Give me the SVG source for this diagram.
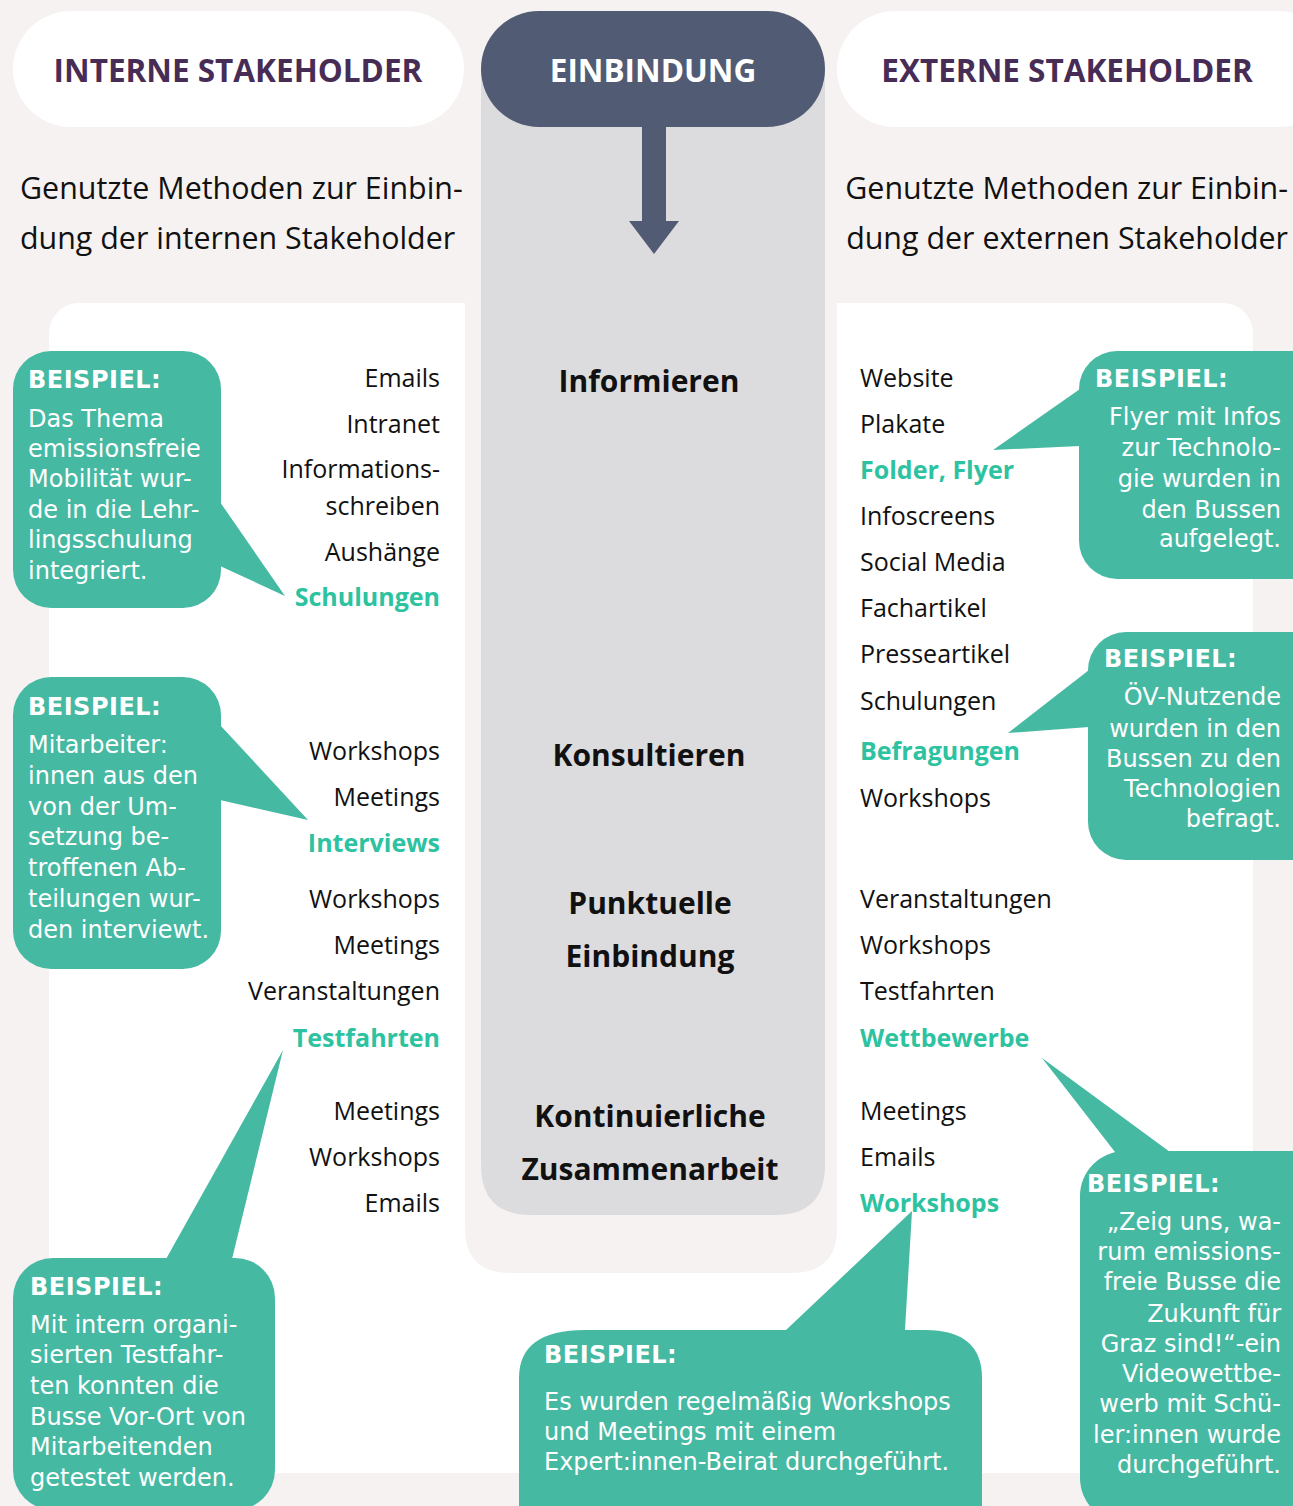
<svg xmlns="http://www.w3.org/2000/svg" width="1293" height="1506" viewBox="0 0 1293 1506">
<style>
.hdr{font-family:"Open Sans","Noto Sans",sans-serif;font-weight:700;font-size:31.5px;text-anchor:middle}
.sub{font-family:"Open Sans","Noto Sans",sans-serif;font-size:30.4px;fill:#111}
.li{font-family:"Open Sans","Noto Sans",sans-serif;font-size:25px;fill:#111}
.lr{text-anchor:end}
.hl{fill:#2dc2a0;font-weight:700}
.cen{font-family:"Open Sans","Noto Sans",sans-serif;font-weight:700;font-size:30px;fill:#111;text-anchor:middle}
.co{fill:#46b9a3}
.ct{font-family:"DejaVu Sans","Verdana",sans-serif;font-size:24px;fill:#fff}
.cb{font-weight:700;letter-spacing:0.5px}
.end{text-anchor:end}
</style>
<rect x="0" y="0" width="1293" height="1506" fill="#f6f2f1"/>
<g id="panels">
<rect x="49" y="303" width="1204" height="1170" rx="30" fill="#fff"/>
<path d="M465,290 L837,290 L837,1228 Q837,1273 792,1273 L510,1273 Q465,1273 465,1228 Z" fill="#f6f2f1"/>
<path d="M481,70 L825,70 L825,1165 Q825,1215 775,1215 L531,1215 Q481,1215 481,1165 Z" fill="#dcdcdf"/>
</g>
<g id="header-intern">
<rect x="13" y="11" width="451" height="116" rx="58" fill="#fff"/>
<text class="hdr" x="238" y="82" fill="#472c55">INTERNE STAKEHOLDER</text>
</g>
<g id="header-einbindung">
<rect x="481" y="11" width="344" height="116" rx="58" fill="#515b73"/>
<text class="hdr" x="653" y="82" fill="#fff">EINBINDUNG</text>
</g>
<g id="header-extern">
<rect x="837" y="11" width="500" height="116" rx="58" fill="#fff"/>
<text class="hdr" x="1067" y="82" fill="#472c55">EXTERNE STAKEHOLDER</text>
</g>
<g id="connectors">
<path d="M642,126 L666,126 L666,221 L679,221 L654,254 L629,221 L642,221 Z" fill="#515b73"/>
</g>
<g id="subtitle-intern">
<text class="sub" x="20" y="199">Genutzte Methoden zur Einbin-</text>
<text class="sub" x="20" y="249">dung der internen Stakeholder</text>
</g>
<g id="subtitle-extern">
<text class="sub end" x="1288" y="199">Genutzte Methoden zur Einbin-</text>
<text class="sub end" x="1288" y="249">dung der externen Stakeholder</text>
</g>
<g id="levels">
<text class="cen" x="649" y="392">Informieren</text>
<text class="cen" x="649" y="766">Konsultieren</text>
<text class="cen" x="650" y="914">Punktuelle</text>
<text class="cen" x="650" y="967">Einbindung</text>
<text class="cen" x="650" y="1127">Kontinuierliche</text>
<text class="cen" x="650" y="1180">Zusammenarbeit</text>
</g>
<g id="list-intern">
<text class="li lr" x="440" y="387">Emails</text>
<text class="li lr" x="440" y="433">Intranet</text>
<text class="li lr" x="440" y="478">Informations-</text>
<text class="li lr" x="440" y="515">schreiben</text>
<text class="li lr" x="440" y="561">Aushänge</text>
<text class="li lr hl" x="440" y="606">Schulungen</text>
<text class="li lr" x="440" y="760">Workshops</text>
<text class="li lr" x="440" y="806">Meetings</text>
<text class="li lr hl" x="440" y="852">Interviews</text>
<text class="li lr" x="440" y="908">Workshops</text>
<text class="li lr" x="440" y="954">Meetings</text>
<text class="li lr" x="440" y="1000">Veranstaltungen</text>
<text class="li lr hl" x="440" y="1047">Testfahrten</text>
<text class="li lr" x="440" y="1120">Meetings</text>
<text class="li lr" x="440" y="1166">Workshops</text>
<text class="li lr" x="440" y="1212">Emails</text>
</g>
<g id="list-extern">
<text class="li" x="860" y="387">Website</text>
<text class="li" x="860" y="433">Plakate</text>
<text class="li hl" x="860" y="479">Folder, Flyer</text>
<text class="li" x="860" y="525">Infoscreens</text>
<text class="li" x="860" y="571">Social Media</text>
<text class="li" x="860" y="617">Fachartikel</text>
<text class="li" x="860" y="663">Presseartikel</text>
<text class="li" x="860" y="710">Schulungen</text>
<text class="li hl" x="860" y="760">Befragungen</text>
<text class="li" x="860" y="807">Workshops</text>
<text class="li" x="860" y="908">Veranstaltungen</text>
<text class="li" x="860" y="954">Workshops</text>
<text class="li" x="860" y="1000">Testfahrten</text>
<text class="li hl" x="860" y="1047">Wettbewerbe</text>
<text class="li" x="860" y="1120">Meetings</text>
<text class="li" x="860" y="1166">Emails</text>
<text class="li hl" x="860" y="1212">Workshops</text>
</g>
<g id="beispiel-schulungen">
<rect class="co" x="13" y="351" width="208" height="257" rx="38"/>
<polygon class="co" points="220,502 285,596 220,566"/>
<text class="ct cb" x="28" y="388">BEISPIEL:</text>
<text class="ct" x="28" y="427">Das Thema</text>
<text class="ct" x="28" y="457">emissionsfreie</text>
<text class="ct" x="28" y="487">Mobilität wur-</text>
<text class="ct" x="28" y="518">de in die Lehr-</text>
<text class="ct" x="28" y="548">lingsschulung</text>
<text class="ct" x="28" y="579">integriert.</text>
</g>
<g id="beispiel-interviews">
<rect class="co" x="13" y="677" width="208" height="292" rx="38"/>
<polygon class="co" points="220,725 308,820 220,800"/>
<text class="ct cb" x="28" y="715">BEISPIEL:</text>
<text class="ct" x="28" y="753">Mitarbeiter:</text>
<text class="ct" x="28" y="784">innen aus den</text>
<text class="ct" x="28" y="815">von der Um-</text>
<text class="ct" x="28" y="845">setzung be-</text>
<text class="ct" x="28" y="876">troffenen Ab-</text>
<text class="ct" x="28" y="907">teilungen wur-</text>
<text class="ct" x="28" y="938">den interviewt.</text>
</g>
<g id="beispiel-testfahrten">
<rect class="co" x="13" y="1258" width="262" height="252" rx="40"/>
<polygon class="co" points="166,1259 283,1050 232,1259"/>
<text class="ct cb" x="30" y="1295">BEISPIEL:</text>
<text class="ct" x="30" y="1333">Mit intern organi-</text>
<text class="ct" x="30" y="1363">sierten Testfahr-</text>
<text class="ct" x="30" y="1394">ten konnten die</text>
<text class="ct" x="30" y="1425">Busse Vor-Ort von</text>
<text class="ct" x="30" y="1455">Mitarbeitenden</text>
<text class="ct" x="30" y="1486">getestet werden.</text>
</g>
<g id="beispiel-workshops">
<path class="co" d="M519,1520 L519,1378 Q519,1330 585,1330 L786,1330 L912,1211 L905,1330 L925,1330 Q982,1330 982,1378 L982,1520 Z"/>
<text class="ct cb" x="544" y="1363">BEISPIEL:</text>
<text class="ct" x="544" y="1410">Es wurden regelmäßig Workshops</text>
<text class="ct" x="544" y="1440">und Meetings mit einem</text>
<text class="ct" x="544" y="1470">Expert:innen-Beirat durchgeführt.</text>
</g>
<g id="beispiel-flyer">
<rect class="co" x="1079" y="351" width="260" height="228" rx="38"/>
<polygon class="co" points="1080,389 993,450 1080,446"/>
<text class="ct cb" x="1095" y="387">BEISPIEL:</text>
<text class="ct end" x="1281" y="425">Flyer mit Infos</text>
<text class="ct end" x="1281" y="456">zur Technolo-</text>
<text class="ct end" x="1281" y="487">gie wurden in</text>
<text class="ct end" x="1281" y="518">den Bussen</text>
<text class="ct end" x="1281" y="547">aufgelegt.</text>
</g>
<g id="beispiel-befragungen">
<rect class="co" x="1088" y="632" width="250" height="228" rx="38"/>
<polygon class="co" points="1089,670 1008,733 1089,727"/>
<text class="ct cb" x="1104" y="667">BEISPIEL:</text>
<text class="ct end" x="1281" y="705">ÖV-Nutzende</text>
<text class="ct end" x="1281" y="737">wurden in den</text>
<text class="ct end" x="1281" y="767">Bussen zu den</text>
<text class="ct end" x="1281" y="797">Technologien</text>
<text class="ct end" x="1281" y="827">befragt.</text>
</g>
<g id="beispiel-wettbewerbe">
<rect class="co" x="1080" y="1151" width="260" height="372" rx="45"/>
<polygon class="co" points="1115,1152 1042,1058 1170,1152"/>
<text class="ct cb" x="1087" y="1192">BEISPIEL:</text>
<text class="ct end" x="1281" y="1230">„Zeig uns, wa-</text>
<text class="ct end" x="1281" y="1260">rum emissions-</text>
<text class="ct end" x="1281" y="1290">freie Busse die</text>
<text class="ct end" x="1281" y="1322">Zukunft für</text>
<text class="ct end" x="1281" y="1352">Graz sind!“-ein</text>
<text class="ct end" x="1281" y="1382">Videowettbe-</text>
<text class="ct end" x="1281" y="1412">werb mit Schü-</text>
<text class="ct end" x="1281" y="1443">ler:innen wurde</text>
<text class="ct end" x="1281" y="1473">durchgeführt.</text>
</g>
</svg>
